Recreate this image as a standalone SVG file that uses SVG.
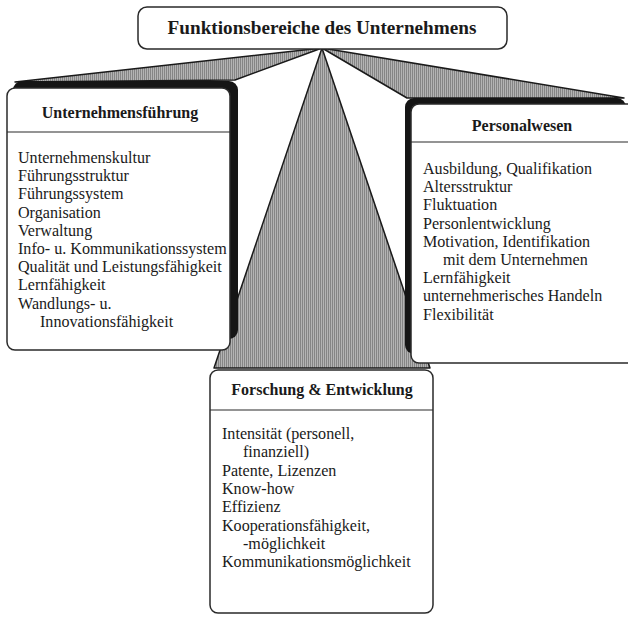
<svg xmlns="http://www.w3.org/2000/svg" width="628" height="622" viewBox="0 0 628 622">
<defs>
<pattern id="hatch" width="2" height="10" patternUnits="userSpaceOnUse">
<rect width="2" height="10" fill="#b4b4b4"/>
<rect width="1" height="10" fill="#858585"/>
</pattern>
<style>
.wedge{fill:url(#hatch);stroke:#1a1a1a;stroke-width:1.5;stroke-linejoin:round}
.shadow{fill:#151515}
.box{fill:#fff;stroke:#2a2a2a;stroke-width:1.5}
.div{stroke:#2a2a2a;stroke-width:1.2}
.title{font-family:"Liberation Serif","Times New Roman",serif;font-weight:bold;font-size:19.2px;fill:#1a1a1a;text-anchor:middle}
.head{font-family:"Liberation Serif","Times New Roman",serif;font-weight:bold;font-size:16px;fill:#1a1a1a;text-anchor:middle}
.body{font-family:"Liberation Serif","Times New Roman",serif;font-size:16.1px;fill:#1a1a1a}
</style>
</defs>
<rect width="628" height="622" fill="#fff"/>
<g id="connectors">
<polygon class="wedge" points="322,48 15,82 235,80"/>
<polygon class="wedge" points="322,48 407,98 624,98"/>
<polygon class="wedge" points="322,48 214,368 430,368"/>
</g>
<g id="root">
<rect class="box" x="138" y="7" width="369" height="42" rx="9" stroke-width="2"/>
<text class="title" x="322" y="34">Funktionsbereiche des Unternehmens</text>
</g>
<g id="unternehmensfuehrung">
<rect class="shadow" x="13" y="81" width="225" height="258" rx="9"/>
<rect class="box" x="7" y="88" width="223" height="262" rx="8"/>
<line class="div" x1="7" y1="132" x2="230" y2="132"/>
<text class="head" x="120" y="118">Unternehmensführung</text>
<text class="body" x="18" y="163">Unternehmenskultur</text>
<text class="body" x="18" y="181.2">Führungsstruktur</text>
<text class="body" x="18" y="199.4">Führungssystem</text>
<text class="body" x="18" y="217.6">Organisation</text>
<text class="body" x="18" y="235.8">Verwaltung</text>
<text class="body" x="18" y="254">Info- u. Kommunikationssystem</text>
<text class="body" x="18" y="272.2">Qualität und Leistungsfähigkeit</text>
<text class="body" x="18" y="290.4">Lernfähigkeit</text>
<text class="body" x="18" y="308.6">Wandlungs- u.</text>
<text class="body" x="40" y="326.8">Innovationsfähigkeit</text>
</g>
<g id="personalwesen">
<rect class="shadow" x="405" y="98" width="221" height="256" rx="9"/>
<rect class="box" x="411" y="104" width="230" height="259" rx="8"/>
<line class="div" x1="411" y1="142" x2="628" y2="142"/>
<text class="head" x="522" y="131">Personalwesen</text>
<text class="body" x="423" y="174">Ausbildung, Qualifikation</text>
<text class="body" x="423" y="192.2">Altersstruktur</text>
<text class="body" x="423" y="210.4">Fluktuation</text>
<text class="body" x="423" y="228.6">Personlentwicklung</text>
<text class="body" x="423" y="246.8">Motivation, Identifikation</text>
<text class="body" x="443" y="265">mit dem Unternehmen</text>
<text class="body" x="423" y="283.2">Lernfähigkeit</text>
<text class="body" x="423" y="301.4">unternehmerisches Handeln</text>
<text class="body" x="423" y="319.6">Flexibilität</text>
</g>
<g id="forschung">
<rect class="box" x="210" y="370" width="223" height="243" rx="8"/>
<line class="div" x1="210" y1="410" x2="433" y2="410"/>
<text class="head" x="322" y="395">Forschung &amp; Entwicklung</text>
<text class="body" x="222" y="439">Intensität (personell,</text>
<text class="body" x="243" y="457.3">finanziell)</text>
<text class="body" x="222" y="475.6">Patente, Lizenzen</text>
<text class="body" x="222" y="493.9">Know-how</text>
<text class="body" x="222" y="512.2">Effizienz</text>
<text class="body" x="222" y="530.5">Kooperationsfähigkeit,</text>
<text class="body" x="243" y="548.8">-möglichkeit</text>
<text class="body" x="222" y="567.1">Kommunikationsmöglichkeit</text>
</g>
</svg>
